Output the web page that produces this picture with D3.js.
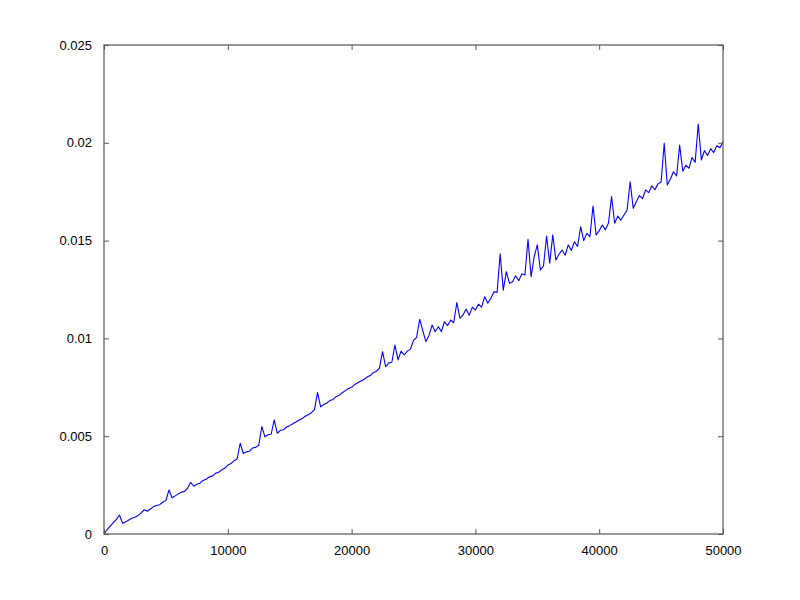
<!DOCTYPE html>
<html>
<head>
<meta charset="utf-8">
<script src="https://cdn.jsdelivr.net/npm/d3@7"></script>
<style>
  html, body { margin: 0; padding: 0; background: #fff; }
  svg { display: block; }
  text { font-family: "Liberation Sans", Arial, sans-serif; font-size: 13px; fill: #000; }
</style>
</head>
<body>
<svg id="chart" width="800" height="600"></svg>
<script>
const xTicks = [0, 10000, 20000, 30000, 40000, 50000];
const yTicks = [0, 0.005, 0.01, 0.015, 0.02, 0.025];
const yTickLabels = ["0", "0.005", "0.01", "0.015", "0.02", "0.025"];

const xs = [
  0, 250, 500, 750, 1000, 1250, 1500, 1750, 2000, 2250, 2500, 2750,
  3000, 3250, 3500, 3750, 4000, 4250, 4500, 4750, 5000, 5250, 5500, 5750,
  6000, 6250, 6500, 6750, 7000, 7250, 7500, 7750, 8000, 8250, 8500, 8750,
  9000, 9250, 9500, 9750, 10000, 10250, 10500, 10750, 11000, 11250, 11500, 11750,
  12000, 12250, 12500, 12750, 13000, 13250, 13500, 13750, 14000, 14250, 14500, 14750,
  15000, 15250, 15500, 15750, 16000, 16250, 16500, 16750, 17000, 17250, 17500, 17750,
  18000, 18250, 18500, 18750, 19000, 19250, 19500, 19750, 20000, 20250, 20500, 20750,
  21000, 21250, 21500, 21750, 22000, 22250, 22500, 22750, 23000, 23250, 23500, 23750,
  24000, 24250, 24500, 24750, 25000, 25250, 25500, 25750, 26000, 26250, 26500, 26750,
  27000, 27250, 27500, 27750, 28000, 28250, 28500, 28750, 29000, 29250, 29500, 29750,
  30000, 30250, 30500, 30750, 31000, 31250, 31500, 31750, 32000, 32250, 32500, 32750,
  33000, 33250, 33500, 33750, 34000, 34250, 34500, 34750, 35000, 35250, 35500, 35750,
  36000, 36250, 36500, 36750, 37000, 37250, 37500, 37750, 38000, 38250, 38500, 38750,
  39000, 39250, 39500, 39750, 40000, 40250, 40500, 40750, 41000, 41250, 41500, 41750,
  42000, 42250, 42500, 42750, 43000, 43250, 43500, 43750, 44000, 44250, 44500, 44750,
  45000, 45250, 45500, 45750, 46000, 46250, 46500, 46750, 47000, 47250, 47500, 47750,
  48000, 48250, 48500, 48750, 49000, 49250, 49500, 49750, 50000
];

const ys = [
  0, 0.00022, 0.00040, 0.00058,
  0.00075, 0.00097, 0.00055, 0.00062,
  0.00072, 0.00080, 0.00086, 0.00094,
  0.00108, 0.00124, 0.00116, 0.00128,
  0.00140, 0.00146, 0.00150, 0.00162,
  0.00172, 0.00225, 0.00185, 0.00195,
  0.00205, 0.00214, 0.00218, 0.00234,
  0.00264, 0.00244, 0.00254, 0.00260,
  0.00274, 0.00280, 0.00292, 0.00296,
  0.00310, 0.00316, 0.00327, 0.00336,
  0.00352, 0.00360, 0.00374, 0.00383,
  0.00464, 0.00412, 0.00420, 0.00423,
  0.00440, 0.00443, 0.00454, 0.00549,
  0.00497, 0.00507, 0.00510, 0.00583,
  0.00515, 0.00530, 0.00533, 0.00547,
  0.00554, 0.00564, 0.00573, 0.00582,
  0.00590, 0.00602, 0.00610, 0.00620,
  0.00636, 0.00723, 0.00650, 0.00662,
  0.00670, 0.00682, 0.00688, 0.00702,
  0.00710, 0.00722, 0.00733, 0.00744,
  0.00750, 0.00764, 0.00773, 0.00782,
  0.00790, 0.00803, 0.00810, 0.00825,
  0.00832, 0.00848, 0.00932, 0.00855,
  0.00875, 0.00878, 0.00966, 0.00890,
  0.00935, 0.00915, 0.00935, 0.00945,
  0.00990, 0.01005, 0.01098, 0.01040,
  0.00983, 0.01015, 0.01068, 0.01034,
  0.01060, 0.01035, 0.01085, 0.01065,
  0.01094, 0.01080, 0.01183, 0.01103,
  0.01120, 0.01150, 0.01118, 0.01160,
  0.01145, 0.01175, 0.01160, 0.01213,
  0.01180, 0.01205, 0.01239, 0.01235,
  0.01432, 0.01247, 0.01341, 0.01282,
  0.01290, 0.01320, 0.01295, 0.01330,
  0.01324, 0.01507, 0.01316, 0.01418,
  0.01478, 0.01350, 0.01370, 0.01523,
  0.01384, 0.01529, 0.01401, 0.01430,
  0.01452, 0.01425, 0.01478, 0.01450,
  0.01494, 0.01470, 0.01571, 0.01500,
  0.01537, 0.01520, 0.01677, 0.01529,
  0.01550, 0.01580, 0.01555, 0.01590,
  0.01725, 0.01589, 0.01625, 0.01605,
  0.01631, 0.01655, 0.01801, 0.01665,
  0.01699, 0.01730, 0.01715, 0.01759,
  0.01745, 0.01780, 0.01760, 0.01790,
  0.01800, 0.01997, 0.01784, 0.01815,
  0.01852, 0.01830, 0.01988, 0.01855,
  0.01885, 0.01870, 0.01925, 0.01900,
  0.02096, 0.01912, 0.01960, 0.01935,
  0.01970, 0.01950, 0.01985, 0.01975,
  0.02006
];

const data = xs.map((x, i) => ({ x: x, y: ys[i] }));

const svg = d3.select("#chart");
const L = 104, R = 723, T = 45, B = 534;

const x = d3.scaleLinear().domain([0, 50000]).range([L, R]);
const y = d3.scaleLinear().domain([0, 0.025]).range([B, T]);

const axisColor = "#555";
const tickLen = 5;

// line
svg.append("path")
  .datum(data)
  .attr("fill", "none")
  .attr("stroke", "#0000ff")
  .attr("stroke-width", 1.1)
  .attr("stroke-linejoin", "round")
  .attr("d", d3.line().x(d => x(d.x)).y(d => y(d.y)));

// box
svg.append("rect")
  .attr("x", L).attr("y", T)
  .attr("width", R - L).attr("height", B - T)
  .attr("fill", "none")
  .attr("stroke", axisColor)
  .attr("stroke-width", 1.2);

// axes (inward ticks on all sides)
const fmtY = (d) => yTickLabels[yTicks.indexOf(d)];
svg.append("g")
  .attr("transform", `translate(0,${B})`)
  .call(d3.axisBottom(x).tickValues(xTicks).tickSize(-tickLen).tickPadding(12).tickFormat(d3.format("d")))
  .call(g => g.select(".domain").remove())
  .call(g => g.selectAll("line").attr("stroke", axisColor))
  .call(g => g.selectAll("text").attr("font-size", 13).attr("font-family", "Liberation Sans, Arial, sans-serif"));

svg.append("g")
  .attr("transform", `translate(0,${T})`)
  .call(d3.axisTop(x).tickValues(xTicks).tickSize(-tickLen).tickFormat(""))
  .call(g => g.select(".domain").remove())
  .call(g => g.selectAll("line").attr("stroke", axisColor));

svg.append("g")
  .attr("transform", `translate(${L},0)`)
  .call(d3.axisLeft(y).tickValues(yTicks).tickSize(-tickLen).tickPadding(12).tickFormat(fmtY))
  .call(g => g.select(".domain").remove())
  .call(g => g.selectAll("line").attr("stroke", axisColor))
  .call(g => g.selectAll("text").attr("font-size", 13).attr("font-family", "Liberation Sans, Arial, sans-serif"));

svg.append("g")
  .attr("transform", `translate(${R},0)`)
  .call(d3.axisRight(y).tickValues(yTicks).tickSize(-tickLen).tickFormat(""))
  .call(g => g.select(".domain").remove())
  .call(g => g.selectAll("line").attr("stroke", axisColor));
</script>
</body>
</html>
